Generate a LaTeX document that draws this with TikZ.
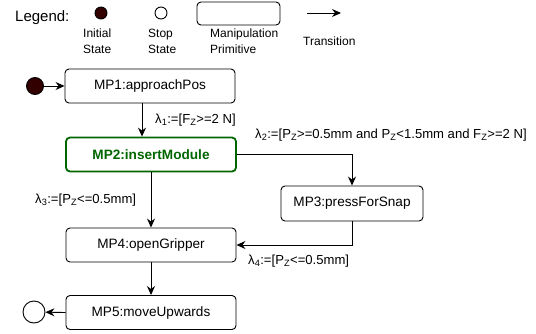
\documentclass[tikz,border=0pt]{standalone}
\usepackage{fontspec}
\setmainfont{Liberation Sans}
\usepackage{tikz}
\usetikzlibrary{calc}
\usetikzlibrary{arrows.meta}
\usetikzlibrary{positioning}
\definecolor{initred}{RGB}{51,0,0}
\definecolor{mpgreen}{RGB}{0,102,0}
\tikzset{mp/.style={rectangle,rounded corners=4pt,draw=black,line width=0.9pt,minimum width=170pt,minimum height=34pt,font=\fontsize{13.6}{16}\selectfont}}
\tikzset{active/.style={mp,draw=mpgreen,line width=1.8pt,text=mpgreen,font=\fontsize{13.6}{16}\selectfont\bfseries}}
\tikzset{initdot/.style={circle,draw=black,fill=initred,line width=0.9pt,inner sep=0pt,minimum size=17pt}}
\tikzset{stopdot/.style={circle,draw=black,fill=white,line width=0.9pt,inner sep=0pt,minimum size=22pt}}
\tikzset{trans/.style={-{Stealth[length=9pt,width=8pt,inset=3pt]},line width=0.9pt}}
\tikzset{guard/.style={font=\fontsize{13.1}{16}\selectfont,inner sep=0pt}}
\tikzset{legendtext/.style={font=\fontsize{12}{16}\selectfont,align=left,inner sep=0pt}}

\begin{document}
\begin{tikzpicture}[x=1pt,y=-1pt]
\useasboundingbox (0,0) rectangle (536,333);

% legend
\node[font=\fontsize{15}{18}\selectfont,anchor=west,inner sep=0pt] (leg) at (15,18) {Legend:};
\node[initdot,minimum size=12pt] (legInit) at (101,13) {};
\node[stopdot,minimum size=12pt] (legStop) at (161,13) {};
\node[mp,minimum width=83pt,minimum height=23pt] (legMP) at (238.5,13.5) {};
\coordinate (legA) at (307,13);
\coordinate (legB) at (341,13);
\draw[trans] (legA) -- (legB);
\node[legendtext,anchor=west] (legInitTxt) at (83,41) {Initial\\State};
\node[legendtext,anchor=west] (legStopTxt) at (148,41) {Stop\\State};
\node[legendtext,anchor=west] (legMPTxt) at (210,41) {Manipulation\\Primitive};
\node[legendtext,anchor=west] (legTrTxt) at (303,41) {Transition};

% states
\node[initdot] (init) at (35,86) {};
\node[mp] (mp1) at (150,86) {MP1:approachPos};
\node[active] (mp2) at (151,154.5) {MP2:insertModule};
\node[mp,minimum width=142pt,minimum height=35pt] (mp3) at (352,203.5) {MP3:pressForSnap};
\node[mp] (mp4) at (151,245) {MP4:openGripper};
\node[mp] (mp5) at (151,312.5) {MP5:moveUpwards};
\node[stopdot] (stop) at (34,312) {};

% transitions
\coordinate (mp1out) at ([xshift=-8pt]mp1.south);
\draw[trans] (init) -- (mp1);
\draw[trans] (mp1out) -- (mp1out |- mp2.north);
\draw[trans] (mp2.east) -| (mp3.north);
\draw[trans] (mp2.south) -- (mp4.north);
\draw[trans] (mp3.south) |- (mp4.east);
\draw[trans] (mp4.south) -- (mp5.north);
\draw[trans] (mp5.west) -- (stop);

% guards
\node[guard,anchor=west] (g1) at (155,120) {λ\textsubscript{1}:=[F\textsubscript{Z}>=2 N]};
\node[guard,anchor=west] (g2) at (255,135) {λ\textsubscript{2}:=[P\textsubscript{Z}>=0.5mm and P\textsubscript{Z}<1.5mm and F\textsubscript{Z}>=2 N]};
\node[guard,anchor=west] (g3) at (35,200) {λ\textsubscript{3}:=[P\textsubscript{Z}<=0.5mm]};
\node[guard,anchor=west] (g4) at (248,261) {λ\textsubscript{4}:=[P\textsubscript{Z}<=0.5mm]};

\end{tikzpicture}
\end{document}
